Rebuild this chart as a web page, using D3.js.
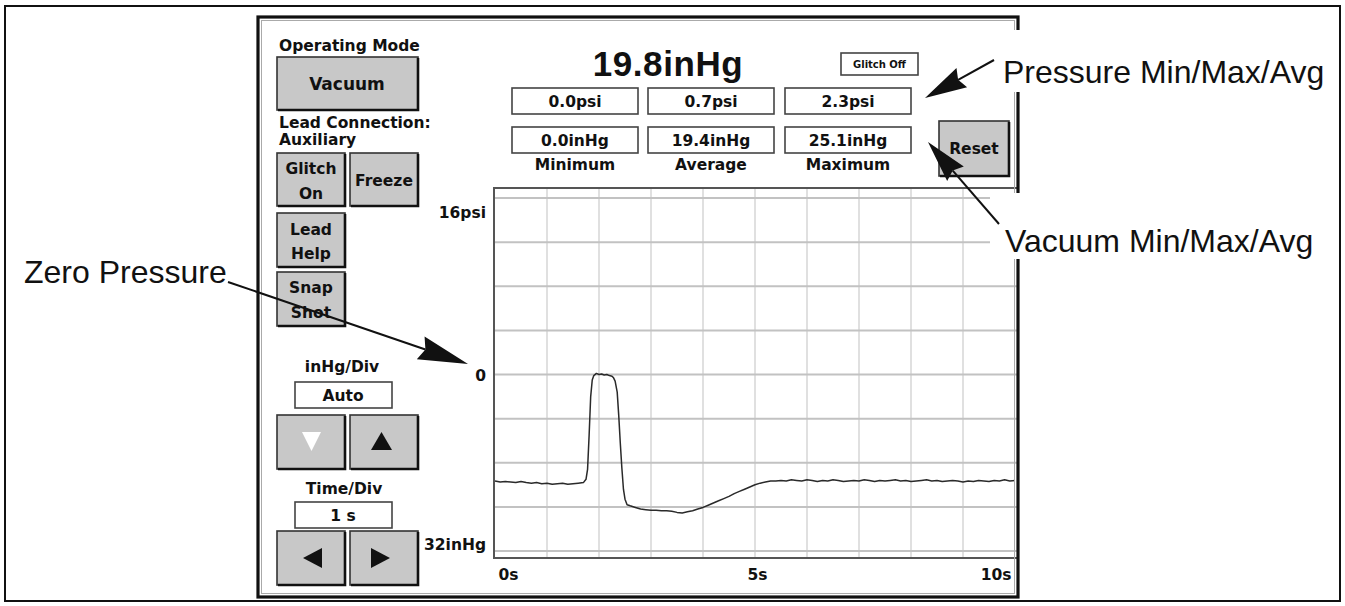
<!DOCTYPE html>
<html>
<head>
<meta charset="utf-8">
<script src="https://cdn.jsdelivr.net/npm/d3@7"></script>
<style>
html,body{margin:0;padding:0;background:#fff;}
svg{display:block;}
</style>
</head>
<body>
<script>
// ---------------- DATA ----------------
const timeSec = [
 0.0,0.1,0.2,0.3,0.4,0.5,0.6,0.7,0.8,0.9,1.0,1.1,1.2,1.3,1.4,1.5,1.6,1.7,
 1.75,1.78,1.81,1.84,1.87,1.9,1.95,2.0,2.05,2.1,2.15,2.2,2.25,2.28,2.31,2.35,2.38,2.41,2.44,2.47,2.5,2.54,
 2.6,2.7,2.8,2.9,3.0,3.1,3.2,3.3,3.4,3.5,3.6,3.7,3.8,3.9,4.0,4.1,4.2,4.3,4.4,4.5,4.6,4.7,4.8,4.9,5.0,5.1,5.2,5.3,5.4,
 5.5,5.6,5.7,5.8,5.9,6.0,6.1,6.2,6.3,6.4,6.5,6.6,6.7,6.8,6.9,7.0,7.1,7.2,7.3,7.4,7.5,7.6,7.7,7.8,7.9,
 8.0,8.1,8.2,8.3,8.4,8.5,8.6,8.7,8.8,8.9,9.0,9.1,9.2,9.3,9.4,9.5,9.6,9.7,9.8,9.9,10.0
];
// vacuum in inHg (positive = vacuum, negative = pressure side)
const vacuumInHg = [
 19.3,19.5,19.4,19.5,19.6,19.4,19.6,19.7,19.6,19.8,19.7,19.9,19.8,19.7,19.9,19.8,19.7,19.6,
 19.0,17.2,11.0,4.0,1.0,0.2,-0.2,0.0,-0.1,0.1,0.0,0.2,0.3,0.6,1.2,3.2,7.5,12.5,17.0,20.8,22.6,23.6,
 23.8,24.1,24.4,24.5,24.6,24.6,24.7,24.7,24.8,25.0,25.1,24.9,24.7,24.4,24.1,23.7,23.3,22.9,22.5,22.1,21.6,21.2,20.8,20.4,20.0,19.7,19.5,19.3,19.3,
 19.2,19.3,19.1,19.2,19.3,19.1,19.2,19.4,19.2,19.3,19.1,19.2,19.4,19.3,19.2,19.3,19.1,19.2,19.4,19.2,19.3,19.2,19.1,19.3,19.2,
 19.4,19.3,19.2,19.1,19.3,19.2,19.4,19.3,19.2,19.3,19.5,19.3,19.4,19.2,19.3,19.4,19.2,19.3,19.1,19.3,19.2
];
const xTickValues = [0, 5, 10];
const xTickLabels = ["0s", "5s", "10s"];
const xGridValues = [0,1,2,3,4,5,6,7,8,9,10];
const yTickValues = [-32, 0, 32];
const yTickLabels = ["16psi", "0", "32inHg"];
const yGridValues = [-32,-24,-16,-8,0,8,16,24,32];

const currentReading = "19.8inHg";
const psiReadouts = ["0.0psi", "0.7psi", "2.3psi"];
const inHgReadouts = ["0.0inHg", "19.4inHg", "25.1inHg"];
const statLabels = ["Minimum", "Average", "Maximum"];
const calloutLabels = ["Pressure Min/Max/Avg", "Vacuum Min/Max/Avg", "Zero Pressure"];

// ---------------- DRAW ----------------
const W = 1345, H = 606;
const UI = "'DejaVu Sans', sans-serif";
const ARIAL = "'Liberation Sans', Arial, sans-serif";
const FS = 15.5;

const svg = d3.select("body").append("svg").attr("width", W).attr("height", H);

// outer frame
svg.append("rect").attr("x", 5).attr("y", 6).attr("width", 1335).attr("height", 595)
  .attr("fill", "#fff").attr("stroke", "#111").attr("stroke-width", 2);

// plot geometry
const px0 = 495, px1 = 1015, pyTop = 188, pyBot = 558;
const x = d3.scaleLinear().domain([0, 10]).range([px0, px1]);
const y = d3.scaleLinear().domain([-32, 32]).range([198, 551]);

const plot = svg.append("g");
// grid
plot.selectAll(".vg").data(xGridValues.slice(1, -1)).join("line")
  .attr("x1", d => x(d)).attr("x2", d => x(d)).attr("y1", pyTop).attr("y2", pyBot)
  .attr("stroke", "#d9d9d9").attr("stroke-width", 1.6);
plot.selectAll(".hg").data(yGridValues).join("line")
  .attr("x1", px0).attr("x2", px1 + 2).attr("y1", d => y(d)).attr("y2", d => y(d))
  .attr("stroke", "#c2c2c2").attr("stroke-width", 2);
// plot frame
plot.append("path")
  .attr("d", `M${px1+3},${pyTop} L${px0-1},${pyTop} L${px0-1},${pyBot} L${px1+3},${pyBot}`)
  .attr("fill", "none").attr("stroke", "#555").attr("stroke-width", 2);

// trace
const line = d3.line().x((d, i) => x(timeSec[i])).y(d => y(d));
plot.append("path").datum(vacuumInHg).attr("d", line)
  .attr("fill", "none").attr("stroke", "#2a2a2a").attr("stroke-width", 1.5)
  .attr("stroke-linejoin", "round");

// axes
const yAxis = d3.axisLeft(y).tickValues(yTickValues).tickSize(0)
  .tickFormat((d, i) => yTickLabels[i]);
const yG = svg.append("g").attr("transform", `translate(${px0 - 6},0)`).call(yAxis);
yG.select(".domain").remove();
yG.selectAll("text").attr("font-family", UI).attr("font-weight", "bold")
  .attr("font-size", FS).attr("fill", "#111")
  .attr("dy", (d, i) => [ "1.25em", "0.4em", "-0.1em" ][i]);

const xAxis = d3.axisBottom(x).tickValues(xTickValues).tickSize(0)
  .tickFormat((d, i) => xTickLabels[i]);
const xG = svg.append("g").attr("transform", `translate(0,${pyBot + 8})`).call(xAxis);
xG.select(".domain").remove();
xG.selectAll("text").attr("font-family", UI).attr("font-weight", "bold")
  .attr("font-size", FS).attr("fill", "#111")
  .attr("text-anchor", (d, i) => ["start", "middle", "end"][i])
  .attr("dx", (d, i) => [3, 2, -4][i]);

// panel frame (double line)
svg.append("rect").attr("x", 258).attr("y", 17).attr("width", 760).attr("height", 580)
  .attr("fill", "none").attr("stroke", "#111").attr("stroke-width", 3.2);
svg.append("rect").attr("x", 261.5).attr("y", 20.5).attr("width", 753).attr("height", 573)
  .attr("fill", "none").attr("stroke", "#aaa").attr("stroke-width", 1);

// helpers
function button(x0, y0, w, h) {
  const g = svg.append("g");
  g.append("rect").attr("x", x0).attr("y", y0).attr("width", w).attr("height", h)
    .attr("fill", "#c8c8c8").attr("stroke", "#333").attr("stroke-width", 1.6);
  g.append("path").attr("d", `M${x0+1},${y0+h} L${x0+w},${y0+h} L${x0+w},${y0+1}`)
    .attr("fill", "none").attr("stroke", "#111").attr("stroke-width", 2.6);
  return g;
}
function box(x0, y0, w, h) {
  svg.append("rect").attr("x", x0).attr("y", y0).attr("width", w).attr("height", h)
    .attr("fill", "#fff").attr("stroke", "#444").attr("stroke-width", 1.6);
}
function txt(t, x0, y0, size, anchor, weight, fam) {
  return svg.append("text").attr("x", x0).attr("y", y0).text(t)
    .attr("font-family", fam || UI).attr("font-weight", weight || "bold")
    .attr("font-size", size).attr("text-anchor", anchor || "start").attr("fill", "#111");
}

// left column
txt("Operating Mode", 279, 51, FS);
button(277, 57, 141, 53);
txt("Vacuum", 347, 90, 17, "middle");
txt("Lead Connection:", 279, 128, FS);
txt("Auxiliary", 279, 145, FS);
button(277, 153, 68, 53);
txt("Glitch", 311, 174, FS, "middle");
txt("On", 311, 199, FS, "middle");
button(350, 153, 68, 53);
txt("Freeze", 384, 186, FS, "middle");
button(277, 213, 68, 54);
txt("Lead", 311, 235, FS, "middle");
txt("Help", 311, 259, FS, "middle");
button(277, 272, 68, 54);
txt("Snap", 311, 293, FS, "middle");
txt("Shot", 311, 318, FS, "middle");

txt("inHg/Div", 342, 372, FS, "middle");
box(295, 382, 97, 26);
txt("Auto", 343, 401, FS, "middle");
button(277, 415, 68, 54);
button(350, 415, 68, 54);
svg.append("path").attr("d", "M302,432 L321,432 L311.5,451 Z").attr("fill", "#fff");
svg.append("path").attr("d", "M371,450 L392,450 L381.5,432 Z").attr("fill", "#111");

txt("Time/Div", 344, 494, FS, "middle");
box(295, 502, 97, 26);
txt("1 s", 343, 521, FS, "middle");
button(277, 531, 68, 54);
button(350, 531, 68, 54);
svg.append("path").attr("d", "M303,558 L322,548 L322,568 Z").attr("fill", "#111");
svg.append("path").attr("d", "M390,558 L371,548 L371,568 Z").attr("fill", "#111");

// top readouts
txt(currentReading, 668, 76, 35, "middle", "bold", ARIAL).attr("letter-spacing", 0.6);
box(841, 53, 77, 22);
txt("Glitch Off", 879.5, 68, 10, "middle");

const boxX = [512, 648, 785];
const boxW = 126;
boxX.forEach((bx, i) => {
  box(bx, 88, boxW, 26);
  txt(psiReadouts[i], bx + boxW / 2, 107, FS, "middle");
  box(bx, 127, boxW, 26);
  txt(inHgReadouts[i], bx + boxW / 2, 146, FS, "middle");
  txt(statLabels[i], bx + boxW / 2, 170, FS, "middle");
});
button(939, 121, 70, 55);
txt("Reset", 974, 154, FS, "middle");

// callouts (white backgrounds occlude frame)
svg.append("rect").attr("x", 998).attr("y", 30).attr("width", 340).attr("height", 62).attr("fill", "#fff");
svg.append("rect").attr("x", 990).attr("y", 193).attr("width", 348).attr("height", 66).attr("fill", "#fff");

const calloutFont = 32;
txt(calloutLabels[0], 1003, 83, calloutFont, "start", "normal", ARIAL);
txt(calloutLabels[1], 1005, 252, calloutFont, "start", "normal", ARIAL);
txt(calloutLabels[2], 24, 283, calloutFont, "start", "normal", ARIAL);

function arrow(x1, y1, tx, ty, len, half) {
  const dx = x1 - tx, dy = y1 - ty, L = Math.hypot(dx, dy);
  const ux = dx / L, uy = dy / L, nx = -uy, ny = ux;
  const bx = tx + ux * len, by = ty + uy * len;
  const nbx = tx + ux * len * 0.9, nby = ty + uy * len * 0.9;
  svg.append("line").attr("x1", x1).attr("y1", y1).attr("x2", nbx).attr("y2", nby)
    .attr("stroke", "#111").attr("stroke-width", 2);
  svg.append("path")
    .attr("d", `M${tx},${ty} L${bx + nx * half},${by + ny * half} L${nbx},${nby} L${bx - nx * half},${by - ny * half} Z`)
    .attr("fill", "#111");
}
arrow(994, 60, 925, 98, 42, 11);
arrow(999, 224, 928, 142, 42, 11);
arrow(228, 282, 468, 364, 50, 12);
</script>
</body>
</html>
